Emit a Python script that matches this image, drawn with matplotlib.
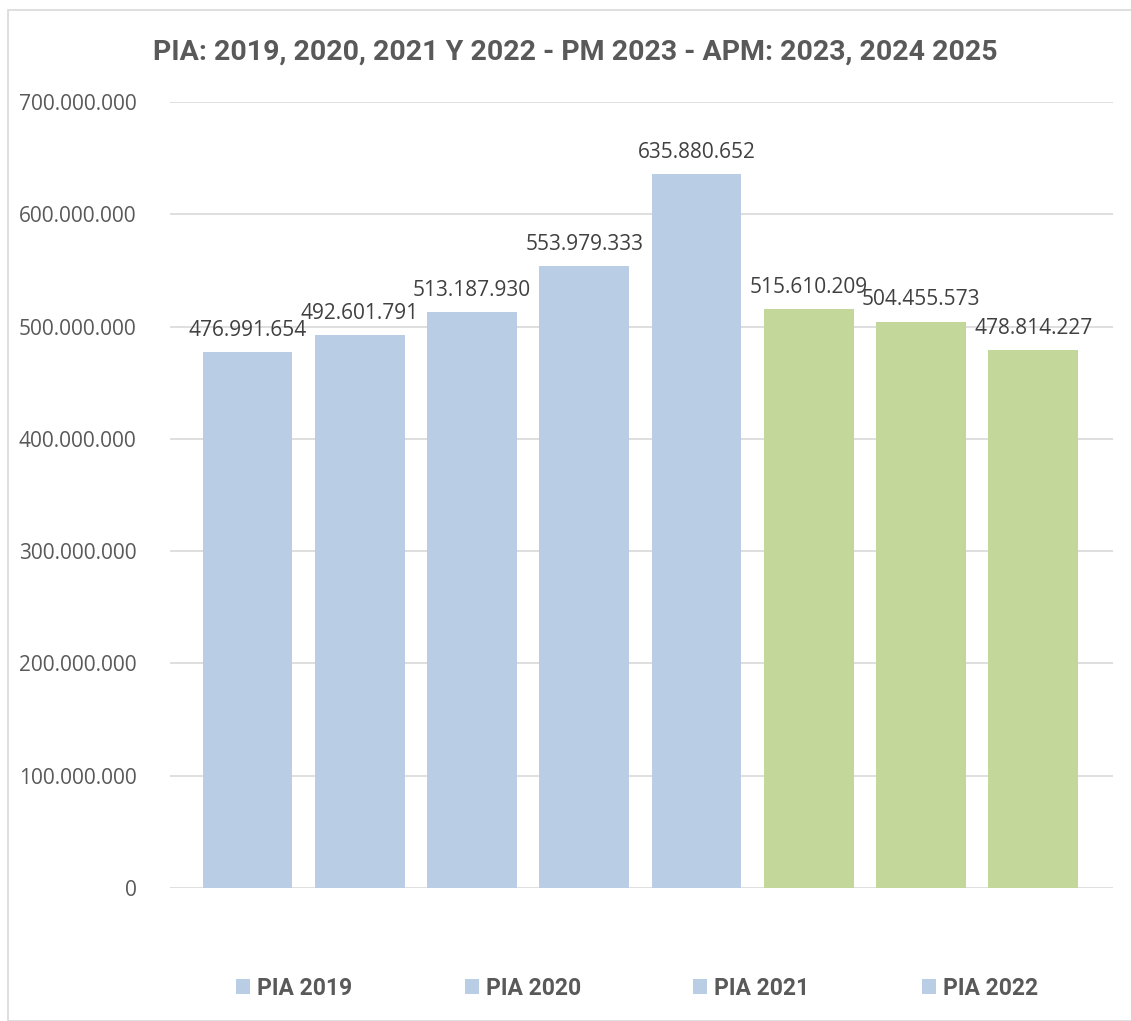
import matplotlib.pyplot as plt
from matplotlib.patches import Rectangle, Patch
from matplotlib.ticker import FuncFormatter

labels = ['PIA 2019', 'PIA 2020', 'PIA 2021', 'PIA 2022', 'PM 2023', 'APM 2023', 'APM 2024', 'APM 2025']
values = [476991654, 492601791, 513187930, 553979333, 635880652, 515610209, 504455573, 478814227]
colors = ['#B9CDE5'] * 5 + ['#C4D79B'] * 3
legend_labels = ['PIA 2019', 'PIA 2020', 'PIA 2021', 'PIA 2022']

def miles(v):
    return f'{int(v):,}'.replace(',', '.')

fig = plt.figure(figsize=(11.31, 10.21), dpi=100)
# chart area border
fig.patches.append(Rectangle((8 / 1131, 0), 1.2, 1 - 10 / 1021, transform=fig.transFigure,
                             fill=False, edgecolor='#D9D9D9', linewidth=1.2))

ax = fig.add_axes([170 / 1131, 1 - 888 / 1021, 943 / 1131, (888 - 102) / 1021])
x = list(range(len(values)))
ax.bar(x, values, width=0.8, color=colors, zorder=3)
for xi, v in zip(x, values):
    ax.text(xi, v + 10e6, miles(v), ha='center', va='bottom', fontsize=15,
            family='Open Sans', color='#404040', zorder=4)

ax.set_ylim(0, 700000000)
ax.set_xlim(-0.69, 7.71)
ax.set_yticks(range(0, 700000001, 100000000))
ax.yaxis.set_major_formatter(FuncFormatter(lambda v, p: miles(v)))
ax.grid(axis='y', color='#D9D9D9', linewidth=1.2, zorder=0)
ax.set_xticks([])
for s in ax.spines.values():
    s.set_visible(False)
ax.tick_params(axis='y', length=0, pad=24, labelsize=15, labelcolor='#595959')
for t in ax.get_yticklabels():
    t.set_family('Open Sans')

fig.text(575 / 1131, 1 - 52 / 1021, 'PIA: 2019, 2020, 2021 Y 2022 - PM 2023 - APM: 2023, 2024 2025',
         ha='center', va='center', fontsize=20.5, fontweight='bold', color='#595959',
         family='Roboto')

handles = [Patch(facecolor='#B9CDE5') for _ in legend_labels]
leg = fig.legend(handles, legend_labels, loc='center', bbox_to_anchor=(637 / 1131, 1 - 988 / 1021),
                 ncol=4, frameon=False, columnspacing=4.9, handlelength=0.62, handleheight=0.62,
                 handletextpad=0.3, prop={'family': 'Roboto', 'weight': 'bold', 'size': 16.5})
for t in leg.get_texts():
    t.set_color('#595959')

fig.savefig('out.png', dpi=100)
